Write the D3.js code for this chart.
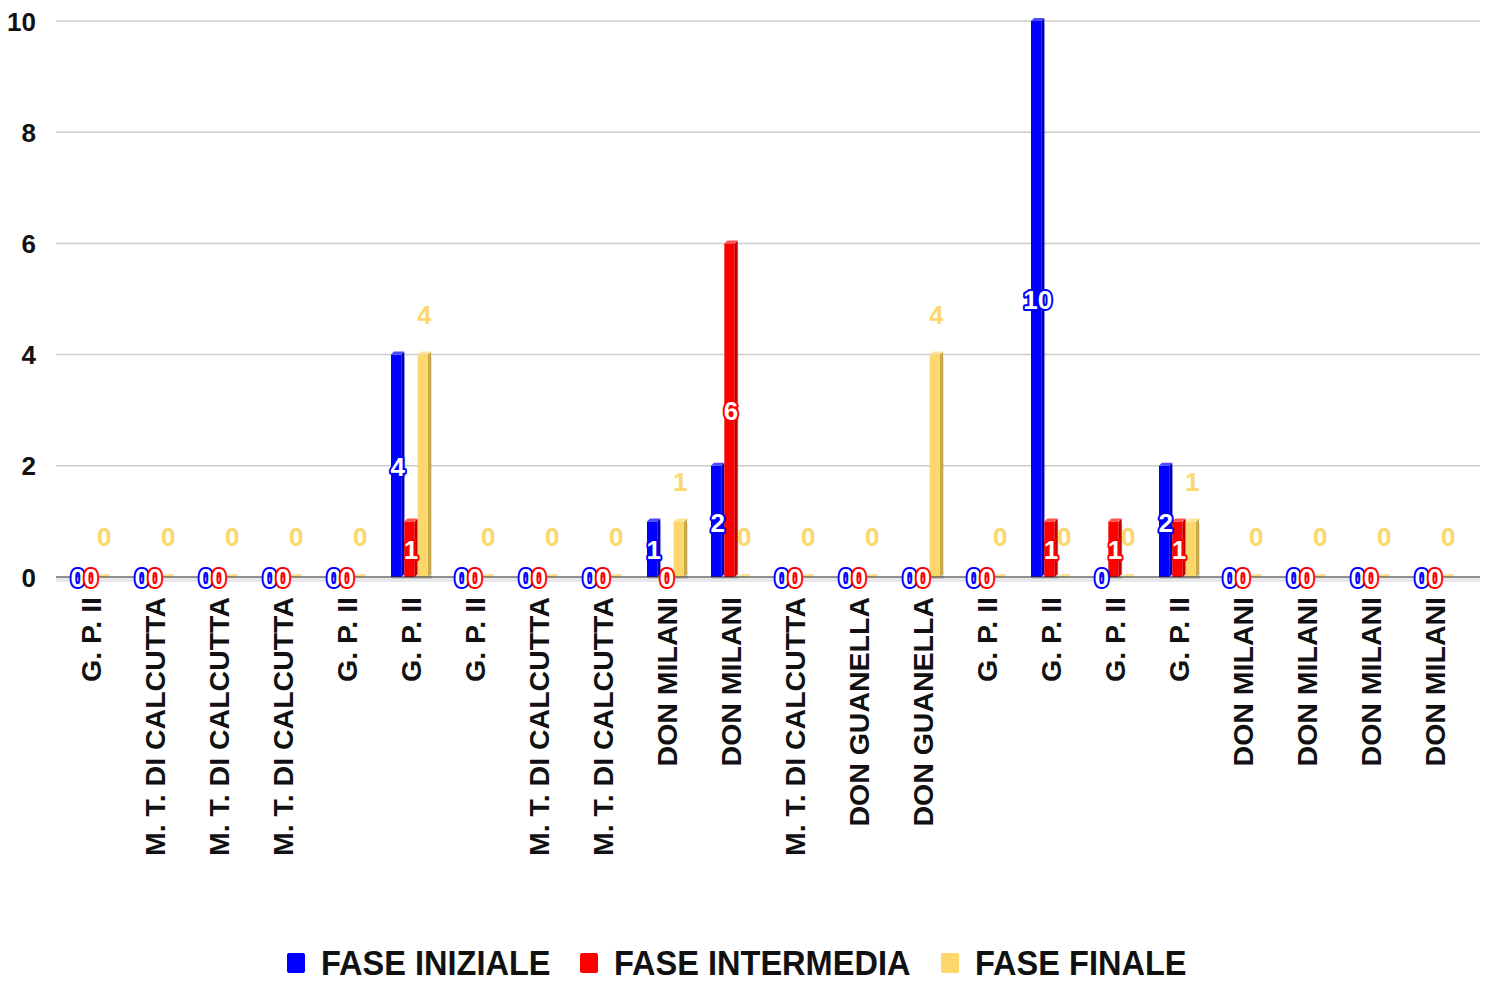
<!DOCTYPE html>
<html><head><meta charset="utf-8">
<script src="https://cdn.jsdelivr.net/npm/d3@7"></script>
<style>body{margin:0;background:#fff}svg{display:block}text{font-family:"Liberation Sans",Arial,sans-serif;font-weight:bold}</style>
</head><body><svg id="chart" width="1491" height="983"></svg>
<script>
const categories = ["G. P. II","M. T. DI CALCUTTA","M. T. DI CALCUTTA","M. T. DI CALCUTTA","G. P. II","G. P. II","G. P. II","M. T. DI CALCUTTA","M. T. DI CALCUTTA","DON MILANI","DON MILANI","M. T. DI CALCUTTA","DON GUANELLA","DON GUANELLA","G. P. II","G. P. II","G. P. II","G. P. II","DON MILANI","DON MILANI","DON MILANI","DON MILANI"];
const seriesNames = ["FASE INIZIALE","FASE INTERMEDIA","FASE FINALE"];
const faseIniziale   = [0,0,0,0,0,4,0,0,0,1,2,0,0,0,0,10,0,2,0,0,0,0];
const faseIntermedia = [0,0,0,0,0,1,0,0,0,0,6,0,0,0,0,1,1,1,0,0,0,0];
const faseFinale     = [0,0,0,0,0,4,0,0,0,1,0,0,0,4,0,0,0,1,0,0,0,0];
const yTicks = [0,2,4,6,8,10];

const series = [faseIniziale, faseIntermedia, faseFinale];
const colors = ["#0000ff","#ff0000","#fdd66c"];
const sideColors = ["#0000b8","#c00000","#c9a84e"];
const topColors = ["#4a4aff","#ff5555","#ffe59a"];

const svg = d3.select("#chart");
const x0 = d3.scaleBand().domain(d3.range(categories.length)).range([59,1467]).paddingInner(0.375).paddingOuter(0.1875);
const x1 = d3.scaleBand().domain(d3.range(3)).range([0, x0.bandwidth()]);
const y = d3.scaleLinear().domain([0,10]).range([577,21]);

// gridlines
svg.append("g").selectAll("line").data(yTicks.filter(t=>t>0)).join("line")
  .attr("x1",56).attr("x2",1480).attr("y1",d=>y(d)).attr("y2",d=>y(d))
  .attr("stroke","#cccccc").attr("stroke-width",1.5);

// y axis labels
const yAxis = d3.axisLeft(y).tickValues(yTicks).tickSize(0).tickPadding(0).tickFormat(d3.format("d"));
const ga = svg.append("g").attr("transform","translate(36,0)").call(yAxis);
ga.select(".domain").remove();
ga.selectAll("text").attr("font-size",26).attr("fill","#111").attr("font-family","Liberation Sans, Arial").attr("font-weight","bold").attr("dy","0.35em");

// baseline shadow
svg.append("line").attr("x1",56).attr("x2",1480).attr("y1",y(0)+3).attr("y2",y(0)+3).attr("stroke","#e8e8e8").attr("stroke-width",4);
// bars
const d = 3;
const bars = [];
categories.forEach((c,i)=>series.forEach((s,j)=>bars.push({i,j,v:s[i]})));
const gb = svg.append("g");
bars.forEach(b=>{
  const xl = x0(b.i)+x1(b.j);
  const w = x1.bandwidth()-d;
  const yt = y(b.v), yb = y(0);
  const g = gb.append("g");
  if (b.v>0) {
    g.append("rect").attr("x",xl+1).attr("y",yt+2).attr("width",w+d).attr("height",yb-yt).attr("fill","rgba(0,0,0,0.12)");
  }
  g.append("rect").attr("x",xl).attr("y",yt).attr("width",w).attr("height",Math.max(yb-yt,0)).attr("fill",colors[b.j]);
  g.append("polygon").attr("points",`${xl+w},${yt} ${xl+w+d},${yt-d} ${xl+w+d},${yb-d} ${xl+w},${yb}`).attr("fill",sideColors[b.j]);
  g.append("polygon").attr("points",`${xl},${yt} ${xl+d},${yt-d} ${xl+w+d},${yt-d} ${xl+w},${yt}`).attr("fill",topColors[b.j]);
});
svg.append("line").attr("x1",56).attr("x2",1480).attr("y1",y(0)).attr("y2",y(0)).attr("stroke","#222").attr("stroke-width",1.2);

// value labels
const gl = svg.append("g");
bars.forEach(b=>{
  const cx = x0(b.i)+x1(b.j)+x1.bandwidth()/2;
  if (b.j<2) {
    const cy = (y(b.v)+y(0))/2 + 1;
    gl.append("text").attr("x",cx).attr("y",cy).attr("dy","0.35em").attr("text-anchor","middle")
      .attr("font-size",26).attr("fill","#fff").attr("stroke",colors[b.j]).attr("stroke-width",4)
      .attr("paint-order","stroke").attr("stroke-linejoin","round").text(b.v);
  } else {
    gl.append("text").attr("x",cx).attr("y",y(b.v)-40).attr("dy","0.35em").attr("text-anchor","middle")
      .attr("font-size",26).attr("fill","#fdd66c").text(b.v);
  }
});

// x labels
svg.append("g").selectAll("text").data(categories).join("text")
  .attr("transform",(t,i)=>`translate(${x0(i)+x0.bandwidth()/2},597) rotate(-90)`)
  .attr("text-anchor","end").attr("dy","0.36em").attr("font-size",28.5).attr("fill","#111").text(t=>t);

// legend
const legendX = [287,580,941];
const lg = svg.append("g");
seriesNames.forEach((n,j)=>{
  lg.append("rect").attr("x",legendX[j]).attr("y",953).attr("width",18).attr("height",20).attr("rx",2).attr("fill",colors[j]);
  lg.append("text").attr("transform",`translate(${legendX[j]+34},975) scale(0.93,1)`).attr("font-size",35).attr("fill","#111").text(n);
});
</script></body></html>
